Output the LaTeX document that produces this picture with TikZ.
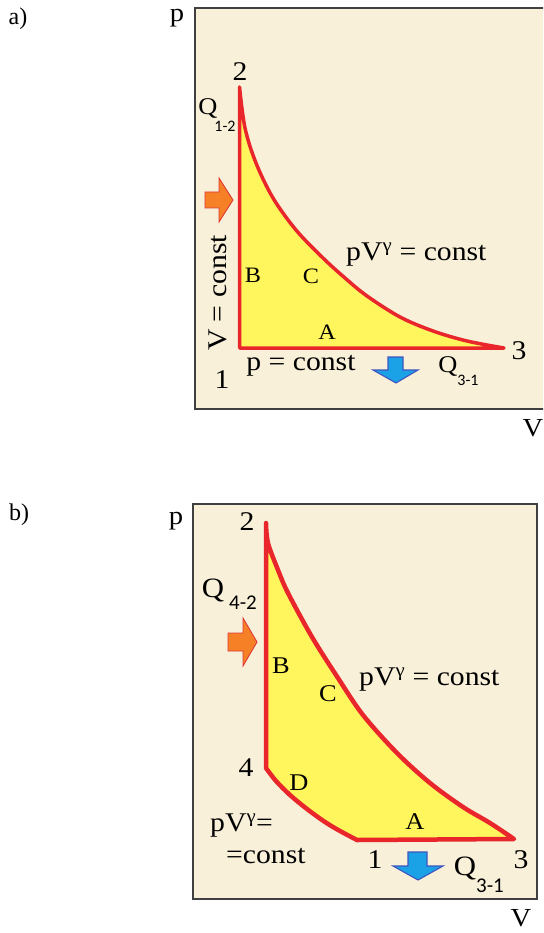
\documentclass[tikz,border=0pt]{standalone}
\usepackage{fontspec}
\setmainfont{Liberation Serif}
\newfontfamily\labf{Liberation Serif}[FakeStretch=1.1]
\newfontfamily\subf{Carlito}
\newcommand\fsz[1]{\fontsize{#1}{#1}\selectfont}
\definecolor{cream}{HTML}{F8F0D9}
\definecolor{cyc}{HTML}{FFF55C}
\definecolor{cycred}{HTML}{E8262B}
\definecolor{boxgray}{HTML}{404040}
\definecolor{orfill}{HTML}{F58025}
\definecolor{orline}{HTML}{E03838}
\definecolor{blfill}{HTML}{1BA1E6}
\definecolor{blline}{HTML}{3F55C0}
\tikzset{
  panel/.style={fill=cream,draw=boxgray,line width=1.8pt},
  cycle a/.style={fill=cyc,draw=cycred,line width=3.5pt,line join=round,line cap=round},
  cycle b/.style={fill=cyc,draw=cycred,line width=4.5pt,line join=round,line cap=round},
  heatin/.style={fill=orfill,draw=orline,line width=0.9pt,line join=miter},
  heatout/.style={fill=blfill,draw=blline,line width=1.1pt,line join=miter},
  lbl/.style={inner sep=0pt,font=\labf\fsz{27}},
  small/.style={inner sep=0pt,font=\labf\fsz{22}},
  smallb/.style={inner sep=0pt,font=\labf\fsz{24}},
  sub/.style={inner sep=0pt,font=\subf\fsz{16}},
  subb/.style={inner sep=0pt,font=\subf\fsz{21}},
  tag/.style={inner sep=0pt,font=\fsz{24}}
}
\begin{document}
\begin{tikzpicture}[x=1pt,y=-1pt]
\useasboundingbox (0,0) rectangle (543,933);
\clip (0,0) rectangle (543,933);
% ---------------- panel a ----------------
\node[tag] (ta) at (18,19) {a)};
\draw[panel] (195,8) rectangle (560,409);
\node[lbl,font=\labf\fsz{26}] (pa) at (177,18) {p};
\node[lbl,font=\labf\fsz{26}] (Va) at (533,428) {V};
\filldraw[cycle a] (504,348) -- (239.5,348) -- (239.5,87)
  -- plot[smooth,tension=0.55] coordinates {(239.5,87) (245,128) (256,163) (273,198) (296,230) (323,258) (345,278) (367,296) (400,317) (433,331) (467,341) (504,348)}
  -- cycle;
\filldraw[heatin] (205,192) -- (219,192) -- (219,178) -- (233,200) -- (219,222) -- (219,208) -- (205,208) -- cycle;
\filldraw[heatout] (388,357) -- (403,357) -- (403,370) -- (418,370) -- (396,383) -- (373,370) -- (388,370) -- cycle;
\node[lbl] (n2a) at (240,72) {2};
\node[lbl] (n1a) at (222,380) {1};
\node[lbl] (n3a) at (519,351) {3};
\node[lbl,font=\labf\fsz{24}] (Qa) at (208,109) {Q};
\node[sub] (Qas) at (225,126) {1-2};
\node[lbl,rotate=90] (Vca) at (218,293) {V = const};
\node[lbl] (pca) at (301,366) {p = const};
\node[lbl,font=\labf\fsz{24}] (Q3a) at (448,366) {Q};
\node[sub] (Q3as) at (468,380) {3-1};
\node[lbl,anchor=west] (adia) at (346,255) {pV\textsuperscript{γ} = const};
\node[small] (Ba) at (253,275) {B};
\node[small] (Ca) at (311,276) {C};
\node[small] (Aa) at (327,332) {A};
% ---------------- panel b ----------------
\node[tag] (tb) at (19,515) {b)};
\draw[panel] (193,504) rectangle (537,899);
\node[lbl,font=\labf\fsz{26}] (pb) at (176,521) {p};
\node[lbl,font=\labf\fsz{26}] (Vb) at (521,918) {V};
\filldraw[cycle b] (514,839) -- (357,840)
  -- plot[smooth,tension=0.55] coordinates {(357,840) (340,831) (325,822) (307,809) (290,795) (276,781) (266,768)}
  -- (266,523)
  -- plot[smooth,tension=0.55] coordinates {(266,523) (268,543) (278,570) (288,593) (312,637) (338,678) (363,715) (397,753) (430,783) (463,807) (490,823) (514,839)}
  -- cycle;
\filldraw[heatin] (228,633) -- (243,633) -- (243,618) -- (257,642) -- (243,666) -- (243,651) -- (228,651) -- cycle;
\filldraw[heatout] (408,852) -- (427,852) -- (427,866) -- (443,866) -- (418,880) -- (393,866) -- (408,866) -- cycle;
\node[lbl] (n2b) at (247,522) {2};
\node[lbl] (n4b) at (246,768) {4};
\node[lbl] (n1b) at (375,860) {1};
\node[lbl] (n3b) at (521,860) {3};
\node[lbl,font=\labf\fsz{28}] (Qb) at (213,590) {Q};
\node[subb] (Qbs) at (243,603) {4-2};
\node[lbl,font=\labf\fsz{28}] (Q3b) at (465,868) {Q};
\node[subb] (Q3bs) at (490,886) {3-1};
\node[lbl,anchor=west] (adib) at (359,680) {pV\textsuperscript{γ} = const};
\node[lbl,anchor=west] (adid1) at (210,826) {pV\textsuperscript{γ}=};
\node[lbl,anchor=west] (adid2) at (226,856) {=const};
\node[smallb] (Bb) at (281,666) {B};
\node[smallb] (Cb) at (328,694) {C};
\node[smallb] (Db) at (299,783) {D};
\node[smallb] (Ab) at (415,822) {A};
\end{tikzpicture}
\end{document}
